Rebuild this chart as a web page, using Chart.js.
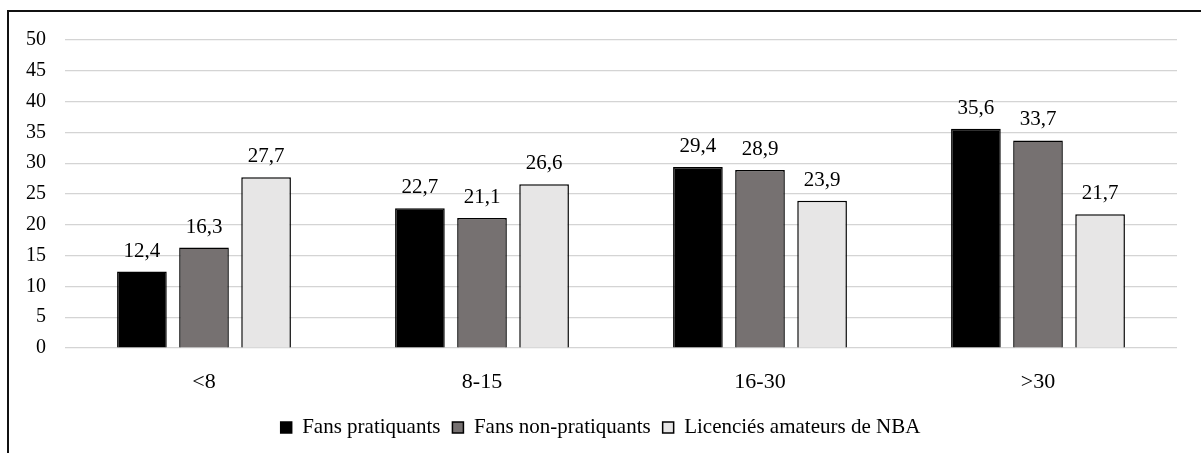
<!DOCTYPE html>
<html>
<head>
<meta charset="utf-8">
<script src="https://cdn.jsdelivr.net/npm/chart.js@4/dist/chart.umd.min.js"></script>
<style>
  html, body { margin: 0; padding: 0; background: #fff; overflow: hidden; }
  #frame {
    position: absolute; left: 7px; top: 10px; width: 1300px; height: 600px;
    border-top: 2px solid #111; border-left: 2px solid #111;
  }
  #wrap { position: absolute; left: 0; top: 0; width: 1201px; height: 453px; }
  #probe { position: absolute; left: -999px; font-family: "Liberation Serif"; }
</style>
</head>
<body>
<div id="frame"></div>
<span id="probe">Licenciés 0123456789</span>
<div id="wrap"><canvas id="chart" width="1201" height="453"></canvas></div>
<script>
const categories = ["<8", "8-15", "16-30", ">30"];
const seriesNames = ["Fans pratiquants", "Fans non-pratiquants", "Licenciés amateurs de NBA"];
const fansPratiquants = [12.4, 22.7, 29.4, 35.6];
const fansNonPratiquants = [16.3, 21.1, 28.9, 33.7];
const licencies = [27.7, 26.6, 23.9, 21.7];
const yMin = 0, yMax = 50, yStep = 5;

const serif = "'Liberation Serif', serif";

// values written above each bar, with a decimal comma
const valueLabels = {
  id: 'valueLabels',
  afterDatasetsDraw(chart) {
    const ctx = chart.ctx;
    ctx.save();
    ctx.font = "21px 'Liberation Serif', serif";
    ctx.fillStyle = '#000';
    ctx.textAlign = 'center';
    ctx.textBaseline = 'alphabetic';
    chart.data.datasets.forEach((ds, i) => {
      chart.getDatasetMeta(i).data.forEach((bar, j) => {
        ctx.fillText(ds.data[j].toFixed(1).replace('.', ','), bar.x, bar.y - 15);
      });
    });
    ctx.restore();
  }
};

const barStyle = {
  borderColor: '#000',
  borderWidth: 1.5,
  categoryPercentage: 0.67,
  barPercentage: 0.8,
};

function draw() {
  new Chart(document.getElementById('chart').getContext('2d'), {
    type: 'bar',
    data: {
      labels: categories,
      datasets: [
        { label: seriesNames[0], data: fansPratiquants, backgroundColor: '#000000', ...barStyle },
        { label: seriesNames[1], data: fansNonPratiquants, backgroundColor: '#767171', ...barStyle },
        { label: seriesNames[2], data: licencies, backgroundColor: '#e7e6e6', ...barStyle },
      ],
    },
    options: {
      responsive: false,
      animation: false,
      devicePixelRatio: 1,
      layout: { padding: { top: 40, right: 0, bottom: 5, left: 0 } },
      plugins: {
        legend: {
          position: 'bottom',
          labels: {
            color: '#000',
            font: { family: serif, size: 21 },
            boxWidth: 11,
            boxHeight: 11,
            padding: 12,
          },
        },
        tooltip: { enabled: false },
        title: { display: false },
      },
      scales: {
        x: {
          grid: { display: false },
          border: { display: false },
          ticks: { color: '#000', font: { family: serif, size: 22 }, padding: 13 },
          afterFit: (s) => { s.height = 57; },
        },
        y: {
          min: yMin,
          max: yMax,
          ticks: { stepSize: yStep, color: '#000', font: { family: serif, size: 20 }, padding: 19 },
          grid: { color: '#d4d4d4', lineWidth: 1.2, drawTicks: false },
          border: { display: false },
          afterFit: (s) => { s.width = 65; },
        },
        // blank axis on the right keeps the plot end at x=1177 while the legend stays centred on the page
        y2: {
          position: 'right',
          display: true,
          grid: { display: false },
          border: { display: false },
          ticks: { display: false },
          afterFit: (s) => { s.width = 24; },
        },
      },
    },
    plugins: [valueLabels],
  });
}

document.fonts.load("20px 'Liberation Serif'").then(draw, draw);
</script>
</body>
</html>
